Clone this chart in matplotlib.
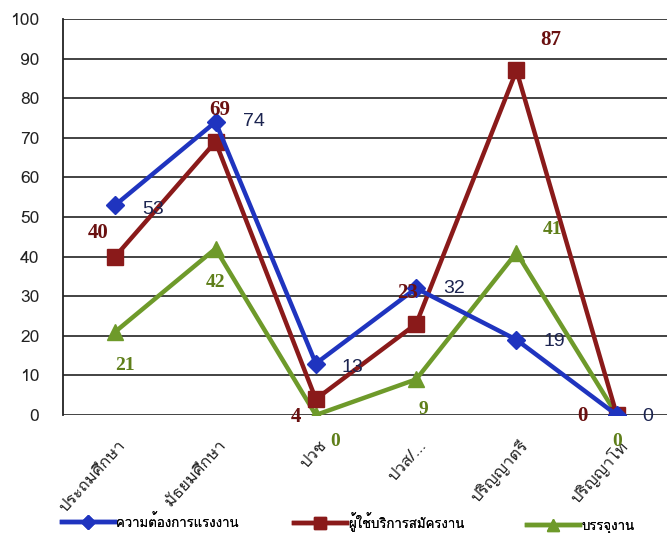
import matplotlib
matplotlib.use("Agg")
import matplotlib.pyplot as plt
from matplotlib import font_manager
from matplotlib.ft2font import FT2Font
from matplotlib.transforms import ScaledTranslation

categories = ["ประถมศึกษา", "มัธยมศึกษา", "ปวช", "ปวส/...", "ปริญญาตรี", "ปริญญาโท"]
demand = [53, 74, 13, 32, 19, 0]        # ความต้องการแรงงาน
applicants = [40, 69, 4, 23, 87, 0]     # ผู้ใช้บริการสมัครงาน
placed = [21, 42, 0, 9, 41, 0]          # บรรจุงาน
series_names = ["ความต้องการแรงงาน", "ผู้ใช้บริการสมัครงาน", "บรรจุงาน"]
yticks = list(range(0, 101, 10))


def find_thai_font():
    seen = set()
    for f in font_manager.fontManager.ttflist:
        if f.name in seen:
            continue
        seen.add(f.name)
        try:
            ft = FT2Font(f.fname)
            if ft.get_char_index(0x0E01) and ft.get_char_index(0x0E32):
                return f.name
        except Exception:
            pass
    return None


thai = find_thai_font()
fams = ([thai] if thai else []) + ["DejaVu Sans"]
plt.rcParams["font.family"] = fams

fig = plt.figure(figsize=(6.67, 5.33), dpi=100)
ax = fig.add_axes([63 / 667, (533 - 415) / 533, 606 / 667, 396 / 533])

x = list(range(len(categories)))
blue, red, green = "#1f34bf", "#8a1a1a", "#6e9a2a"

l1, = ax.plot(x, demand, color=blue, lw=3.2, marker="D", ms=9, zorder=4)
l2, = ax.plot(x, applicants, color=red, lw=3.2, marker="s", ms=11, zorder=3)
l3, = ax.plot(x, placed, color=green, lw=3.2, marker="^", ms=12, zorder=2)

ax.set_xlim(-0.52, 5.52)
ax.set_ylim(0, 100)
ax.set_yticks(yticks)
ax.yaxis.grid(True, color="#222222", lw=1.2)
ax.set_axisbelow(True)
for s in ["top", "right", "bottom"]:
    ax.spines[s].set_visible(False)
ax.spines["left"].set_color("#222222")
ax.spines["left"].set_linewidth(1.3)
ax.tick_params(axis="y", length=0, pad=17, labelsize=12.5, labelcolor="#222222")
ax.tick_params(axis="x", length=0, pad=16)
ax.set_xticks(x)
ax.set_xticklabels(categories, rotation=48, ha="right", rotation_mode="anchor",
                   fontsize=12, color="#222222")
for t in ax.get_xticklabels():
    t.set_transform(t.get_transform() + ScaledTranslation(2 / 100, 0, fig.dpi_scale_trans))

# data labels (offsets in points)
off_blue = [(27, -3), (28, 0), (26, -3), (27, 0), (27, -1), (22, -1)]
off_red = [(-12, 17), (3, 23), (-14, -13), (-6, 22), (25, 22), (-25, -1)]
off_green = [(7, -24), (0, -24), (14, -19), (5, -22), (26, 17), (0, -19)]

for i in x:
    ax.annotate(str(demand[i]), (i, demand[i]), xytext=off_blue[i], textcoords="offset points",
                ha="center", va="center", fontsize=14, color="#1c2450",
                family="Liberation Sans", zorder=6)
    ax.annotate(str(applicants[i]), (i, applicants[i]), xytext=off_red[i], textcoords="offset points",
                ha="center", va="center", fontsize=15, color="#6a1010", fontweight="bold",
                family="Liberation Serif", zorder=6)
    ax.annotate(str(placed[i]), (i, placed[i]), xytext=off_green[i], textcoords="offset points",
                ha="center", va="center", fontsize=14, color="#5f7f1a", fontweight="bold",
                family="Liberation Serif", zorder=6)

# legend: three entries placed along the bottom
leg_x = [62, 294, 527]
leg_y = [11, 11, 6]
for h, name, lx, ly in zip([l1, l2, l3], series_names, leg_x, leg_y):
    lg = fig.legend([h], [name], loc="center left", bbox_to_anchor=(lx / 667, ly / 533),
                    frameon=False, fontsize=9.5, handlelength=4, handletextpad=0.1,
                    borderpad=0, borderaxespad=0, markerscale=0.75)
    fig.add_artist(lg)

fig.savefig("out.png", dpi=100)
